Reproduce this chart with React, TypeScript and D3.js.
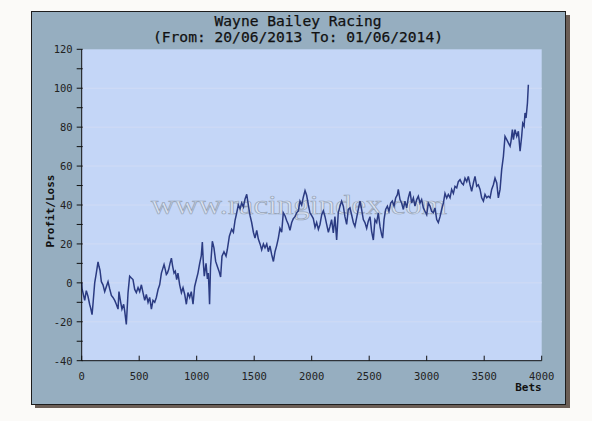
import { useRef, useEffect } from 'react';
import * as d3 from 'd3';

// bet number (x) and running profit/loss (y)
const betNumbers = [
  0, 3, 11, 26, 40, 55, 69, 78, 90, 98, 113, 127, 142, 150, 159, 171, 185, 200, 214, 229,
  243, 258, 272, 287, 301, 316, 324, 339, 350, 365, 374, 388, 403, 417, 432, 446, 461, 475, 490, 504,
  519, 533, 548, 562, 577, 591, 606, 620, 635, 649, 664, 678, 693, 707, 716, 727, 736, 745, 756, 768,
  780, 791, 803, 814, 826, 837, 852, 867, 881, 896, 910, 924, 939, 953, 968, 982, 997, 1011, 1026, 1040,
  1049, 1058, 1066, 1081, 1093, 1101, 1107, 1112, 1120, 1136, 1150, 1165, 1179, 1194, 1208, 1220, 1237, 1255, 1266, 1284,
  1304, 1319, 1333, 1348, 1362, 1377, 1391, 1406, 1420, 1435, 1449, 1464, 1478, 1493, 1507, 1522, 1536, 1551, 1565, 1580,
  1594, 1609, 1623, 1637, 1652, 1667, 1681, 1695, 1710, 1724, 1739, 1753, 1768, 1782, 1797, 1811, 1826, 1840, 1855, 1869,
  1884, 1898, 1913, 1927, 1942, 1956, 1971, 1985, 2000, 2014, 2029, 2043, 2058, 2072, 2087, 2101, 2116, 2130, 2145, 2159,
  2173, 2188, 2202, 2217, 2231, 2246, 2260, 2275, 2289, 2304, 2318, 2333, 2347, 2362, 2376, 2391, 2405, 2420, 2434, 2449,
  2463, 2478, 2492, 2507, 2521, 2536, 2550, 2565, 2579, 2594, 2608, 2617, 2629, 2643, 2658, 2672, 2687, 2701, 2716, 2730,
  2745, 2753, 2768, 2782, 2797, 2811, 2826, 2840, 2855, 2869, 2884, 2898, 2913, 2927, 2942, 2956, 2971, 2985, 3000, 3014,
  3029, 3043, 3058, 3072, 3087, 3101, 3116, 3130, 3145, 3159, 3174, 3188, 3203, 3217, 3232, 3246, 3261, 3275, 3290, 3304,
  3319, 3333, 3348, 3362, 3377, 3391, 3406, 3420, 3435, 3449, 3464, 3478, 3493, 3507, 3522, 3536, 3551, 3565, 3580, 3594,
  3609, 3623, 3638, 3652, 3667, 3681, 3696, 3710, 3725, 3733, 3745, 3754, 3768, 3783, 3797, 3812, 3826, 3835, 3847, 3855,
  3864, 3876, 3884,
];

const profitLoss = [
  0, -3, -5, -9, -4, -7, -11, -13, -16.3, -11, 0, 5, 10.8, 8.5, 6.5, 0.6, -1, -4.5, -2, 0.6,
  -3, -6.5, -7.5, -9, -11, -13.5, -4.5, -10, -13.5, -11, -14.5, -21.4, -5, 3.4, 2.5, 1.7, -3.4, -5, -2.5, -4.5,
  -1, -5, -9, -6, -10, -7.5, -13.5, -9, -10, -7.5, -3.4, -1, 5, 7.7, 9.4, 6.8, 4.3, 5, 6.8, 10,
  12.7, 8.5, 5, 6, 1.7, 5, -1, -5, -2.5, -6, -11, -5, -7.5, -4.5, -11, -2, 1.7, 5, 10, 14,
  21, 10, 3.4, 10, 2, 5, -3, -11, 8, 21.4, 18, 11, 8.5, 6, 3, 13.7, 16, 13.7, 17, 24,
  27.5, 26, 32, 36, 40, 38, 41, 39, 43, 45.5, 40, 34.5, 31, 26, 23, 27, 22.5, 20, 17, 20,
  18, 20, 16, 19, 14.5, 11, 16, 19, 23, 28, 26, 36, 34.5, 32, 30, 27, 31, 33, 34, 36,
  37, 42, 40, 44, 47.4, 45, 40, 36, 34.5, 33, 28.5, 31, 27.5, 30, 35, 37, 34, 30, 26, 29,
  32.5, 25.7, 34, 22, 36, 39.4, 42, 39.4, 34, 30, 37.7, 38.5, 35, 31, 29, 33.5, 37.7, 42, 37.7, 32.5,
  31, 28, 31.7, 34, 26.5, 22, 32.5, 31, 36, 29, 24.8, 23, 32.5, 37.7, 39.4, 36.8, 41, 42, 39.4, 43.6,
  45.3, 48, 42.8, 41, 37.7, 42, 38.5, 43.6, 47, 41, 43.6, 39.4, 42.8, 44.5, 41, 42.8, 38.5, 36.8, 35, 41,
  39.4, 36.8, 36, 38.5, 32.5, 31, 34, 37.7, 41, 46, 43.6, 45.4, 43.7, 48, 46, 49.6, 48.8, 52, 53, 51.3,
  50.4, 53.8, 52, 54.7, 50.4, 47, 51.3, 54.7, 49.6, 50.4, 48, 43.7, 42, 45.4, 43.7, 44.5, 43.7, 48, 50.4, 53.8,
  51.3, 43.7, 48, 58.2, 65, 75.3, 73.6, 71.9, 70.2, 72.7, 78.7, 73.6, 78.7, 75.3, 77.9, 67.6, 75.3, 82, 80.5, 87.3,
  84.7, 92.4, 101.8,
];

const xTicks = [0, 500, 1000, 1500, 2000, 2500, 3000, 3500, 4000];
const yTicks = [-40, -20, 0, 20, 40, 60, 80, 100, 120];
const yMinorTicks = [-30, -10, 10, 30, 50, 70, 90, 110];

const titleLines = ['Wayne Bailey Racing', '(From: 20/06/2013 To: 01/06/2014)'];

const ProfitChart = () => {
  const svgRef = useRef<SVGSVGElement>(null);

  useEffect(() => {
    if (!svgRef.current) return;

    const width = 592;
    const height = 421;
    const plotLeft = 81.7;
    const plotRight = 541.7;
    const plotTop = 49.3;
    const plotBottom = 360.7;
    const mono = '"DejaVu Sans Mono", "Liberation Mono", monospace';

    const svg = d3
      .select(svgRef.current)
      .attr('width', width)
      .attr('height', height)
      .attr('viewBox', [0, 0, width, height]);

    svg.selectAll('*').remove();

    svg.append('rect').attr('width', width).attr('height', height).attr('fill', '#fbfaf8');

    // frame with drop shadow
    svg.append('rect')
      .attr('x', 35).attr('y', 15).attr('width', 535).attr('height', 393)
      .attr('fill', '#6b5e56');
    svg.append('rect')
      .attr('x', 31.5).attr('y', 11.5).attr('width', 534).attr('height', 393)
      .attr('fill', '#96aec0').attr('stroke', '#1d1d1d').attr('stroke-width', 1);

    const xScale = d3.scaleLinear().domain([0, 4000]).range([plotLeft, plotRight]);
    const yScale = d3.scaleLinear().domain([-40, 120]).range([plotBottom, plotTop]);

    svg.append('rect')
      .attr('x', plotLeft).attr('y', plotTop)
      .attr('width', plotRight - plotLeft).attr('height', plotBottom - plotTop)
      .attr('fill', '#c4d6f7');

    // faint horizontal grid
    svg.append('g')
      .selectAll('line')
      .data(yTicks.filter((t) => t > -40 && t < 120))
      .join('line')
      .attr('x1', plotLeft).attr('x2', plotRight)
      .attr('y1', (d) => yScale(d)).attr('y2', (d) => yScale(d))
      .attr('stroke', '#d0dbf5').attr('stroke-width', 1);

    // title
    svg.append('g')
      .selectAll('text')
      .data(titleLines)
      .join('text')
      .attr('x', 298)
      .attr('y', (_, i) => 26 + i * 15.5)
      .attr('text-anchor', 'middle')
      .attr('font-family', mono)
      .attr('font-size', 14.6)
      .attr('fill', '#111')
      .attr('stroke', '#111').attr('stroke-width', 0.25)
      .text((d) => d);

    // watermark
    svg.append('text')
      .attr('x', 151).attr('y', 214)
      .attr('textLength', 296).attr('lengthAdjust', 'spacingAndGlyphs')
      .attr('font-family', '"Liberation Serif", serif')
      .attr('font-size', 27)
      .attr('fill', '#e2e8f1').attr('stroke', '#8793a3').attr('stroke-width', 0.7)
      .attr('opacity', 0.75)
      .text('www.racingindex.com');

    // profit/loss line
    const points = betNumbers.map((b, i) => [b, profitLoss[i]] as [number, number]);
    const line = d3.line<[number, number]>()
      .x((d) => xScale(d[0]))
      .y((d) => yScale(d[1]));

    svg.append('path')
      .datum(points)
      .attr('d', line)
      .attr('fill', 'none')
      .attr('stroke', '#2b3b82')
      .attr('stroke-width', 1.5)
      .attr('stroke-linejoin', 'miter');

    // y axis
    const yAxis = svg.append('g').attr('stroke', '#111');
    yAxis.append('line')
      .attr('x1', plotLeft).attr('x2', plotLeft)
      .attr('y1', plotTop).attr('y2', plotBottom);
    yAxis.selectAll('line.tick')
      .data([...yTicks, ...yMinorTicks])
      .join('line')
      .attr('class', 'tick')
      .attr('x1', plotLeft - 5).attr('x2', plotLeft + 1)
      .attr('y1', (d) => yScale(d)).attr('y2', (d) => yScale(d));

    svg.append('g')
      .selectAll('text')
      .data(yTicks)
      .join('text')
      .attr('x', plotLeft - 9)
      .attr('y', (d) => yScale(d) + 4)
      .attr('text-anchor', 'end')
      .attr('font-family', mono)
      .attr('font-size', 10.5)
      .attr('fill', '#222')
      .text((d) => d);

    // x axis
    const xAxis = svg.append('g').attr('stroke', '#111');
    xAxis.append('line')
      .attr('x1', plotLeft).attr('x2', plotRight)
      .attr('y1', plotBottom).attr('y2', plotBottom);
    xAxis.selectAll('line.tick')
      .data(xTicks)
      .join('line')
      .attr('class', 'tick')
      .attr('x1', (d) => xScale(d)).attr('x2', (d) => xScale(d))
      .attr('y1', plotBottom).attr('y2', plotBottom - 5);

    svg.append('g')
      .selectAll('text')
      .data(xTicks)
      .join('text')
      .attr('x', (d) => xScale(d))
      .attr('y', 380)
      .attr('text-anchor', 'middle')
      .attr('font-family', mono)
      .attr('font-size', 10.5)
      .attr('fill', '#222')
      .text((d) => d);

    // axis titles
    svg.append('text')
      .attr('x', plotRight).attr('y', 391)
      .attr('text-anchor', 'end')
      .attr('font-family', mono)
      .attr('font-size', 11)
      .attr('font-weight', 'bold')
      .attr('fill', '#111')
      .text('Bets');

    svg.append('text')
      .attr('transform', 'translate(54,211) rotate(-90)')
      .attr('text-anchor', 'middle')
      .attr('font-family', mono)
      .attr('font-size', 11)
      .attr('font-weight', 'bold')
      .attr('fill', '#111')
      .text('Profit/Loss');
  }, []);

  return <svg ref={svgRef} style={{ position: 'absolute', left: 0, top: 0, display: 'block' }}></svg>;
};

export default function App() {
  return <ProfitChart />;
}
